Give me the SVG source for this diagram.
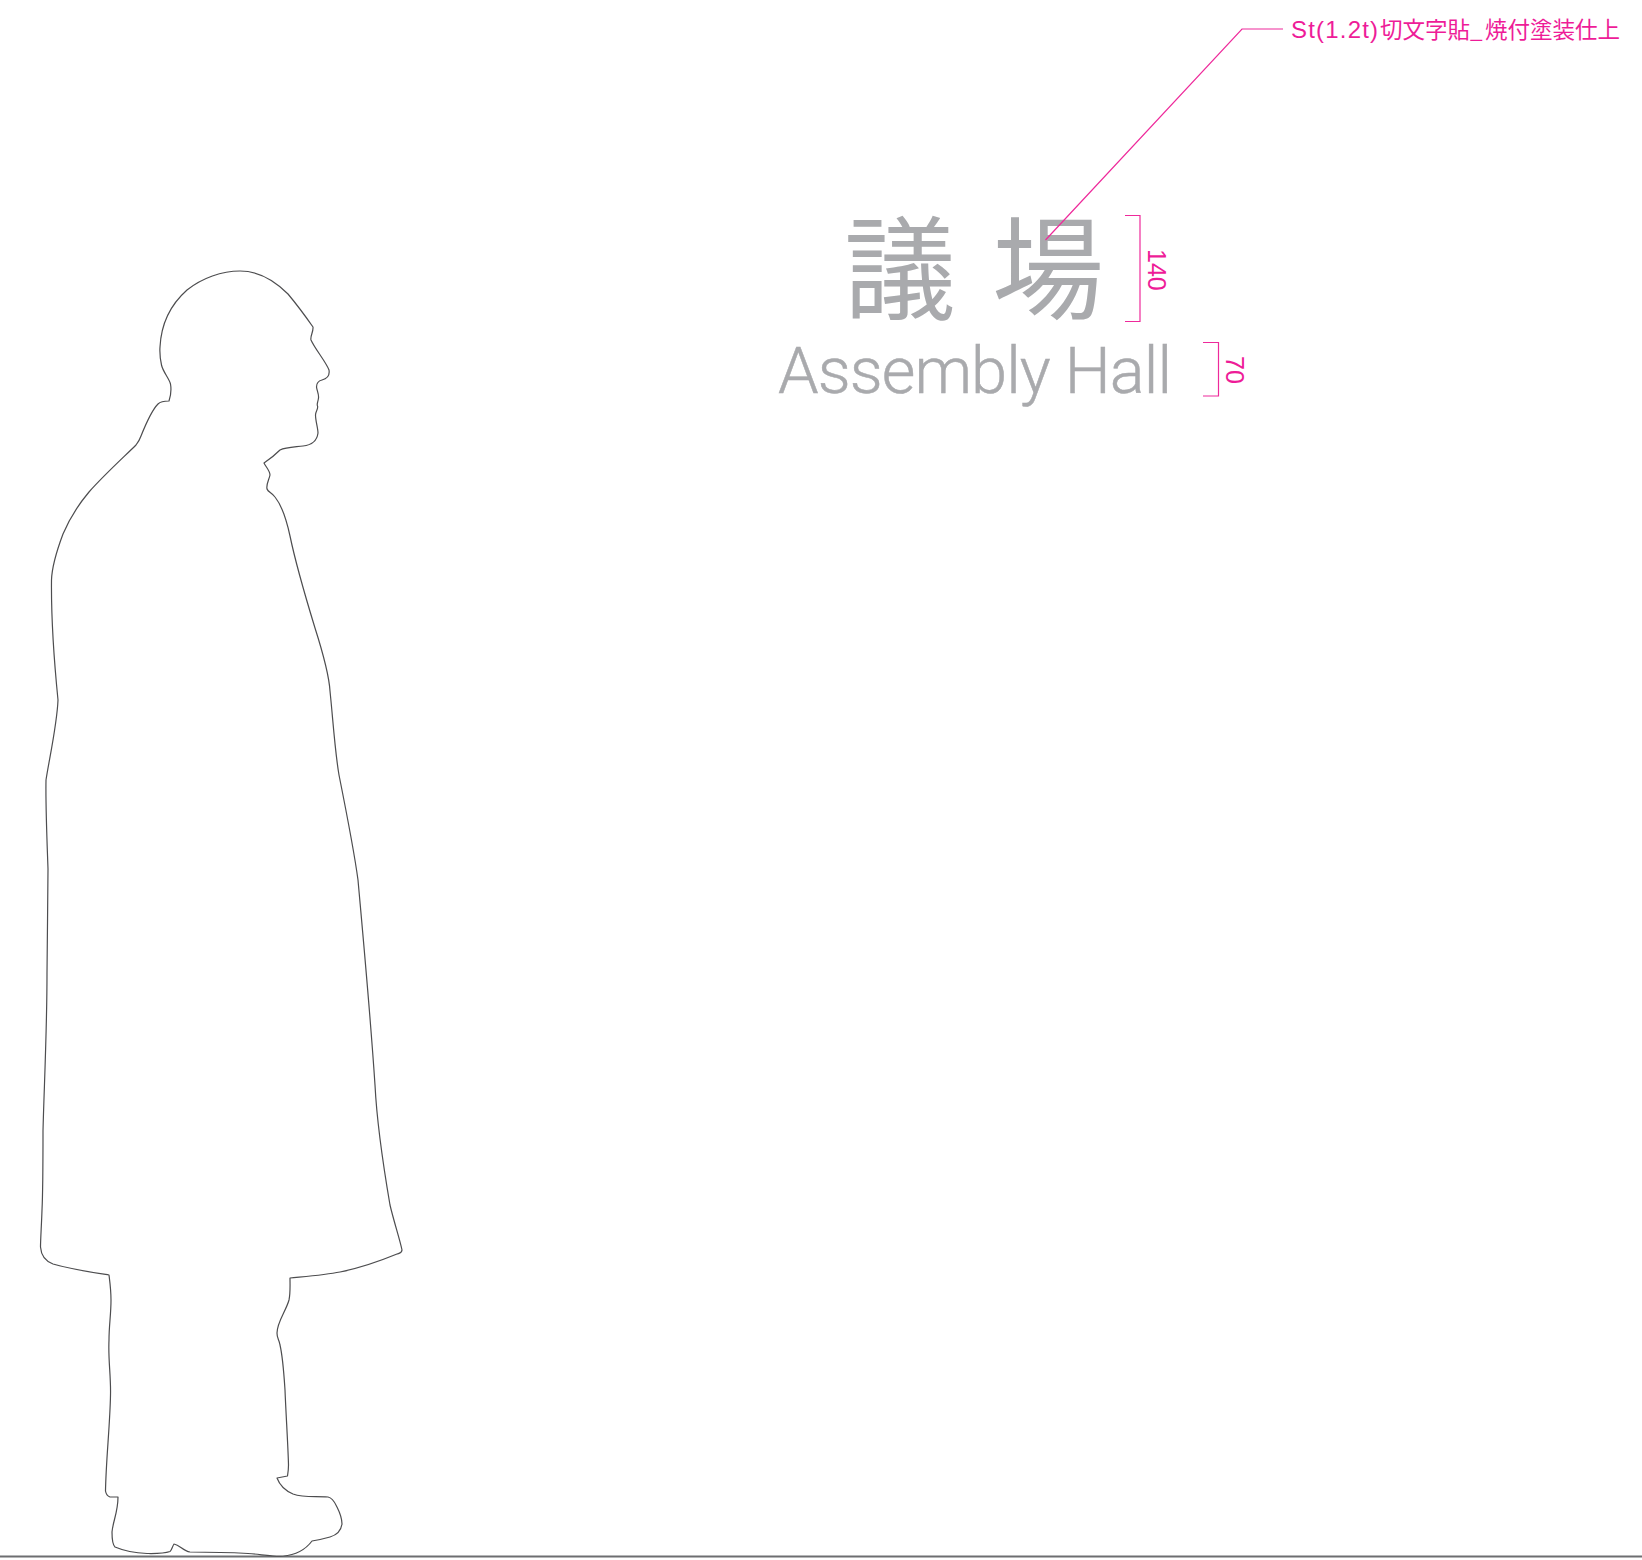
<svg xmlns="http://www.w3.org/2000/svg" width="1642" height="1560" viewBox="0 0 1642 1560">
<style>
.leader{fill:none;stroke:#ee2a9b;stroke-width:1.2}
.pink{fill:#ee1c98;font-family:"Liberation Sans",sans-serif}
.cjk{font-family:"Noto Sans CJK JP","Liberation Sans",sans-serif}
.grey{fill:#a9aaad}
</style>
<rect width="1642" height="1560" fill="#fff"/>
<g id="ground"><line x1="0" y1="1556.500" x2="1642" y2="1556.500" stroke="#6d6e71" stroke-width="2"/></g>
<g id="figure"><path fill="#fff" stroke="#4d4d4f" stroke-width="1.200" stroke-linejoin="round" d="M136 445C139 441 140 439 141 436C145 426 151 411 158 404C161 401 165 401 169 401C171 395 171.500 390 170.500 384C169 378 163 372 161.500 365C160 358 159.500 354 160 347C161 327 169 306 187 290C202 278 222 271 240 271C258 271 275 281 288 294C298 306 306 317 313 327C313.500 332 310 336 311 340C315 349 326 362 329 370C330 376 326 379 322 380C318 381 316.500 384 316.500 387C317 391 319 394 318.500 398C318 402 316.500 404 317.500 406C318.500 409 315.500 411 315.500 415C315.500 421 318 428 318 433C317 441 312 445 303 446C296 447 286 447 280 450C275 455 270 459 264 463C266 467 270 471 270 475C269 480 266 484 267 489C268 492 272 493 275 497C283 507 287 522 290 536C295 560 304 592 315 628C322 650 329 675 330 691C333 720 335 752 339 775C345 805 354 850 358 880C362 925 370 1010 375 1085C377 1125 384 1170 390 1205C394 1222 400 1240 402 1250C402 1253 400 1253 397 1254C380 1261 360 1268 340 1272C325 1275 305 1276.500 290 1278C290 1285 290.500 1293 289 1300C286 1311 277 1322 277 1333C277 1339 279 1339 280 1345C283 1358 284 1375 285 1390C286 1415 288 1445 288.500 1465C288.500 1470 288 1473 287.500 1476L277 1478C280 1486 286 1491 293 1494C304 1498 315 1496 328 1497C333 1498 335 1503 337 1507C340 1513 342 1518 342 1524C341 1531 337 1535 330 1537C323 1539 318 1540 312 1541C306 1549 296 1555 283 1556C272 1556.500 262 1554.500 248 1553.500C230 1552.500 210 1552 190 1552C183 1551 180 1545 174 1544C172 1547 172 1550 170 1551.500C163 1554 150 1553.500 147 1553.500C135 1553 122 1550 115 1547C112 1544 112 1537 112 1532C113 1521 118 1512 118 1497L110 1497C107 1496 106 1494 105.500 1491C106 1460 110 1425 110.500 1395C111 1375 108 1360 109 1340C109 1325 111 1315 111 1300C111 1290 110 1283 109 1275C90 1272 70 1269 53 1264C45 1261 41 1254 40.500 1247C40.500 1240 41.500 1225 42 1210C43 1190 43 1165 43 1131C44 1090 47 1030 47 974C47 945 48 900 48 869C47 840 45.500 805 46 780C49 760 57 725 58 700C55 670 51 625 51.500 580C52 565 57 550 63 534C69 520 78 505 89 492C105 474 125 456 136 445Z"/></g>
<g id="title-ja" class="cjk grey" font-size="112"><text x="844" y="311">議</text><text x="992" y="311">場</text></g>
<g id="title-en"><text class="grey" x="778" y="393" stroke="#a9aaad" stroke-width="0.5" font-family="Roboto,'Liberation Sans',sans-serif" font-weight="300" font-size="65" textLength="394" lengthAdjust="spacing">Assembly Hall</text></g>
<g id="connectors">
<path class="leader" d="M1045.500 240L1242 29H1283"/>
<path class="leader" d="M1125 215.500H1140V321.500H1125"/>
<path class="leader" d="M1203 342.500H1218.500V396H1203"/>
</g>
<g id="dim-140"><text class="pink" transform="translate(1148 249) rotate(90)" font-size="25">140</text></g>
<g id="dim-70"><text class="pink" transform="translate(1226 356) rotate(90)" font-size="25">70</text></g>
<g id="label"><text class="pink" y="38" font-size="24"><tspan x="1291" letter-spacing="1.200">St(1.2t)</tspan><tspan class="cjk" x="1380" y="37.500" font-size="22.500">切文字貼_</tspan><tspan class="cjk" x="1485" y="37.500" font-size="22.500">焼付塗装仕上</tspan></text></g>
</svg>
